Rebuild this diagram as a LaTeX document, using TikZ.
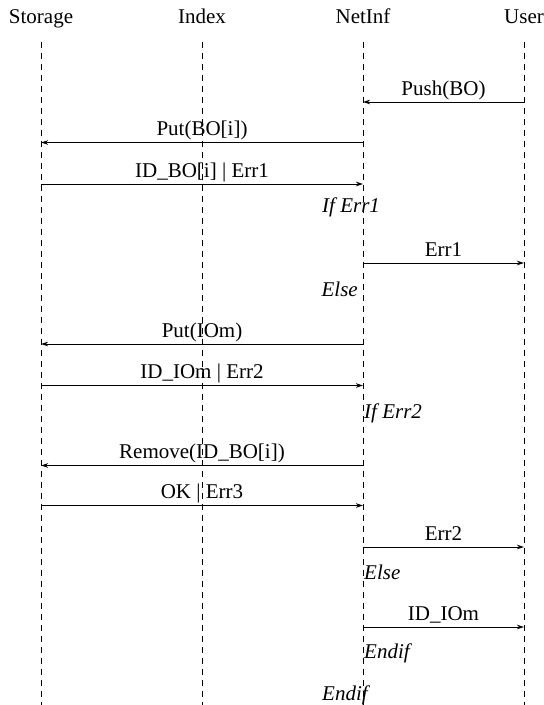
\documentclass[tikz,border=0pt]{standalone}
\usepackage{fontspec}
\setmainfont{Liberation Serif}
\usetikzlibrary{arrows.meta,positioning}

\begin{document}
\begin{tikzpicture}[
    x=1pt, y=-1pt,
    font=\fontsize{21}{25}\selectfont,
    actor/.style={anchor=base, inner sep=0pt},
    lifeline/.style={line width=0.9pt, dash pattern=on 6pt off 5pt},
    msg/.style={-{Stealth[length=7pt,width=4.5pt,inset=2pt]}, line width=0.9pt},
    lbl/.style={anchor=base, inner sep=0pt, yshift=7pt},
    cond/.style={inner sep=0pt, font=\fontsize{21}{25}\selectfont\itshape},
]
\useasboundingbox (0,0) rectangle (544,705);

% Header: the four parties
\node[actor] (storage) at (41,23) {Storage};
\node[actor] (index) at (202,23) {Index};
\node[actor] (netinf) at (363,23) {NetInf};
\node[actor] (user) at (524,23) {User};

% Lifelines
\coordinate (top) at (0,41.5);
\coordinate (bot) at (0,705);
\foreach \p in {storage,index,netinf,user}
  \draw[lifeline] (\p |- top) -- (\p |- bot);

% Message rows
\foreach \n/\y in {push/102, put1/142.5, idbo/184, err1/263, put2/344,
                   idiom/385.5, remove/465.5, ok/505.5, err2/547, idiom2/627}
  \coordinate (\n) at (0,\y);

% Storing the object
\draw[msg] (user |- push) -- node[lbl] {Push(BO)} (netinf |- push);
\draw[msg] (netinf |- put1) -- node[lbl] {Put(BO[i])} (storage |- put1);
\draw[msg] (storage |- idbo) -- node[lbl] {ID\_BO[i] | Err1} (netinf |- idbo);

% First check
\node[cond, anchor=base west] (iferr1) at (322,212) {If Err1};
\draw[msg] (netinf |- err1) -- node[lbl] {Err1} (user |- err1);
\node[cond, anchor=base east] (else1) at (358,296) {Else};

% Storing the index object
\draw[msg] (netinf |- put2) -- node[lbl] {Put(IOm)} (storage |- put2);
\draw[msg] (storage |- idiom) -- node[lbl] {ID\_IOm | Err2} (netinf |- idiom);

% Second check
\node[cond, anchor=base west] (iferr2) at (364,418) {If Err2};
\draw[msg] (netinf |- remove) -- node[lbl] {Remove(ID\_BO[i])} (storage |- remove);
\draw[msg] (storage |- ok) -- node[lbl] {OK | Err3} (netinf |- ok);
\draw[msg] (netinf |- err2) -- node[lbl] {Err2} (user |- err2);
\node[cond, anchor=base west] (else2) at (364,579) {Else};
\draw[msg] (netinf |- idiom2) -- node[lbl] {ID\_IOm} (user |- idiom2);
\node[cond, anchor=base west] (endif2) at (364,658) {Endif};
\node[cond, anchor=base west] (endif1) at (322,700) {Endif};

\end{tikzpicture}
\end{document}
